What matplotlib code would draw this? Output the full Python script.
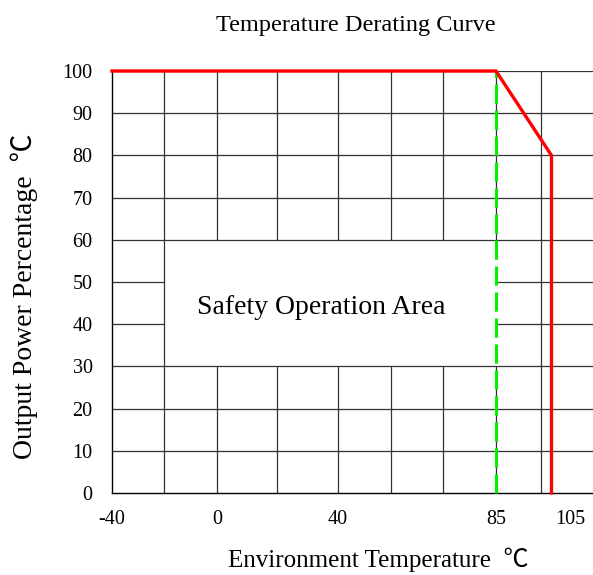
import matplotlib
matplotlib.use("Agg")
import matplotlib.pyplot as plt
import numpy as np

FONT = ["Liberation Serif", "Noto Sans CJK SC", "DejaVu Serif"]
plt.rcParams["font.family"] = FONT

# data
temp_ticks = [-40, 0, 40, 85, 105]
power_ticks = [0, 10, 20, 30, 40, 50, 60, 70, 80, 90, 100]
curve_temp = [-40, 85, 100, 100]
curve_power = [100, 100, 80, 0]
limit_temp = 85
grid_full_x = [-20, 97.2]
grid_split_x = [0, 20, 40, 55, 70, 85]
grid_full_y = [10, 20, 30, 60, 70, 80, 90, 100]
grid_split_y = [40, 50]
box_x = (-20, 85)
box_y = (30, 60)

# the printed axis is not linear: piecewise mapping of temperature to position
anchor_t = [-40, 0, 40, 85, 105, 112]
anchor_p = [0, 105, 226, 384, 458, 484]


def fwd(x):
    return np.interp(x, anchor_t, anchor_p)


def inv(p):
    return np.interp(p, anchor_p, anchor_t)


fig = plt.figure(figsize=(5.93, 5.75), dpi=100)
ax = fig.add_axes([112 / 593, 1 - 493 / 575, 1 - 112 / 593, (493 - 71) / 575])
ax.set_xscale("function", functions=(fwd, inv))
ax.set_xlim(-40, 111.2)
ax.set_ylim(0, 100)

gc = "#333333"
glw = 0.9
for x in grid_full_x:
    ax.vlines(x, 0, 100, color=gc, lw=glw, zorder=1)
for x in grid_split_x:
    ax.vlines(x, 0, box_y[0], color=gc, lw=glw, zorder=1)
    ax.vlines(x, box_y[1], 100, color=gc, lw=glw, zorder=1)
for y in grid_full_y:
    ax.hlines(y, -40, 111.2, color=gc, lw=glw, zorder=1)
for y in grid_split_y:
    ax.hlines(y, -40, box_x[0], color=gc, lw=glw, zorder=1)
    ax.hlines(y, box_x[1], 111.2, color=gc, lw=glw, zorder=1)

ax.plot([limit_temp, limit_temp], [0, 100], color="#00f000", lw=2.2,
        dashes=(6.3, 2.2), zorder=3, clip_on=False)
ax.plot(curve_temp, curve_power, color="#ff0000", lw=2.4, zorder=4,
        clip_on=False, solid_joinstyle="miter")

ax.text(34.5, 44, "Safety Operation Area", ha="center", va="center",
        fontsize=20)

for s in ["top", "right"]:
    ax.spines[s].set_visible(False)
for s in ["left", "bottom"]:
    ax.spines[s].set_color("black")
    ax.spines[s].set_linewidth(1.0)

ax.set_xticks(temp_ticks)
ax.set_xticklabels([str(t) for t in temp_ticks])
ax.set_yticks(power_ticks)
ax.set_yticklabels([str(p) for p in power_ticks])
ax.tick_params(axis="both", length=0, labelsize=14.5)
ax.tick_params(axis="y", pad=14)
ax.tick_params(axis="x", pad=12)

fig.text(356 / 593, 1 - 25 / 575, "Temperature Derating Curve",
         ha="center", va="center", fontsize=17.5)
fig.text(378 / 593, 1 - 560 / 575, "Environment Temperature  ℃",
         ha="center", va="center", fontsize=18)
fig.text(24 / 593, 1 - 296 / 575, "Output Power Percentage  ℃",
         ha="center", va="center", rotation=90, fontsize=20)

fig.savefig("out.png", dpi=100)
